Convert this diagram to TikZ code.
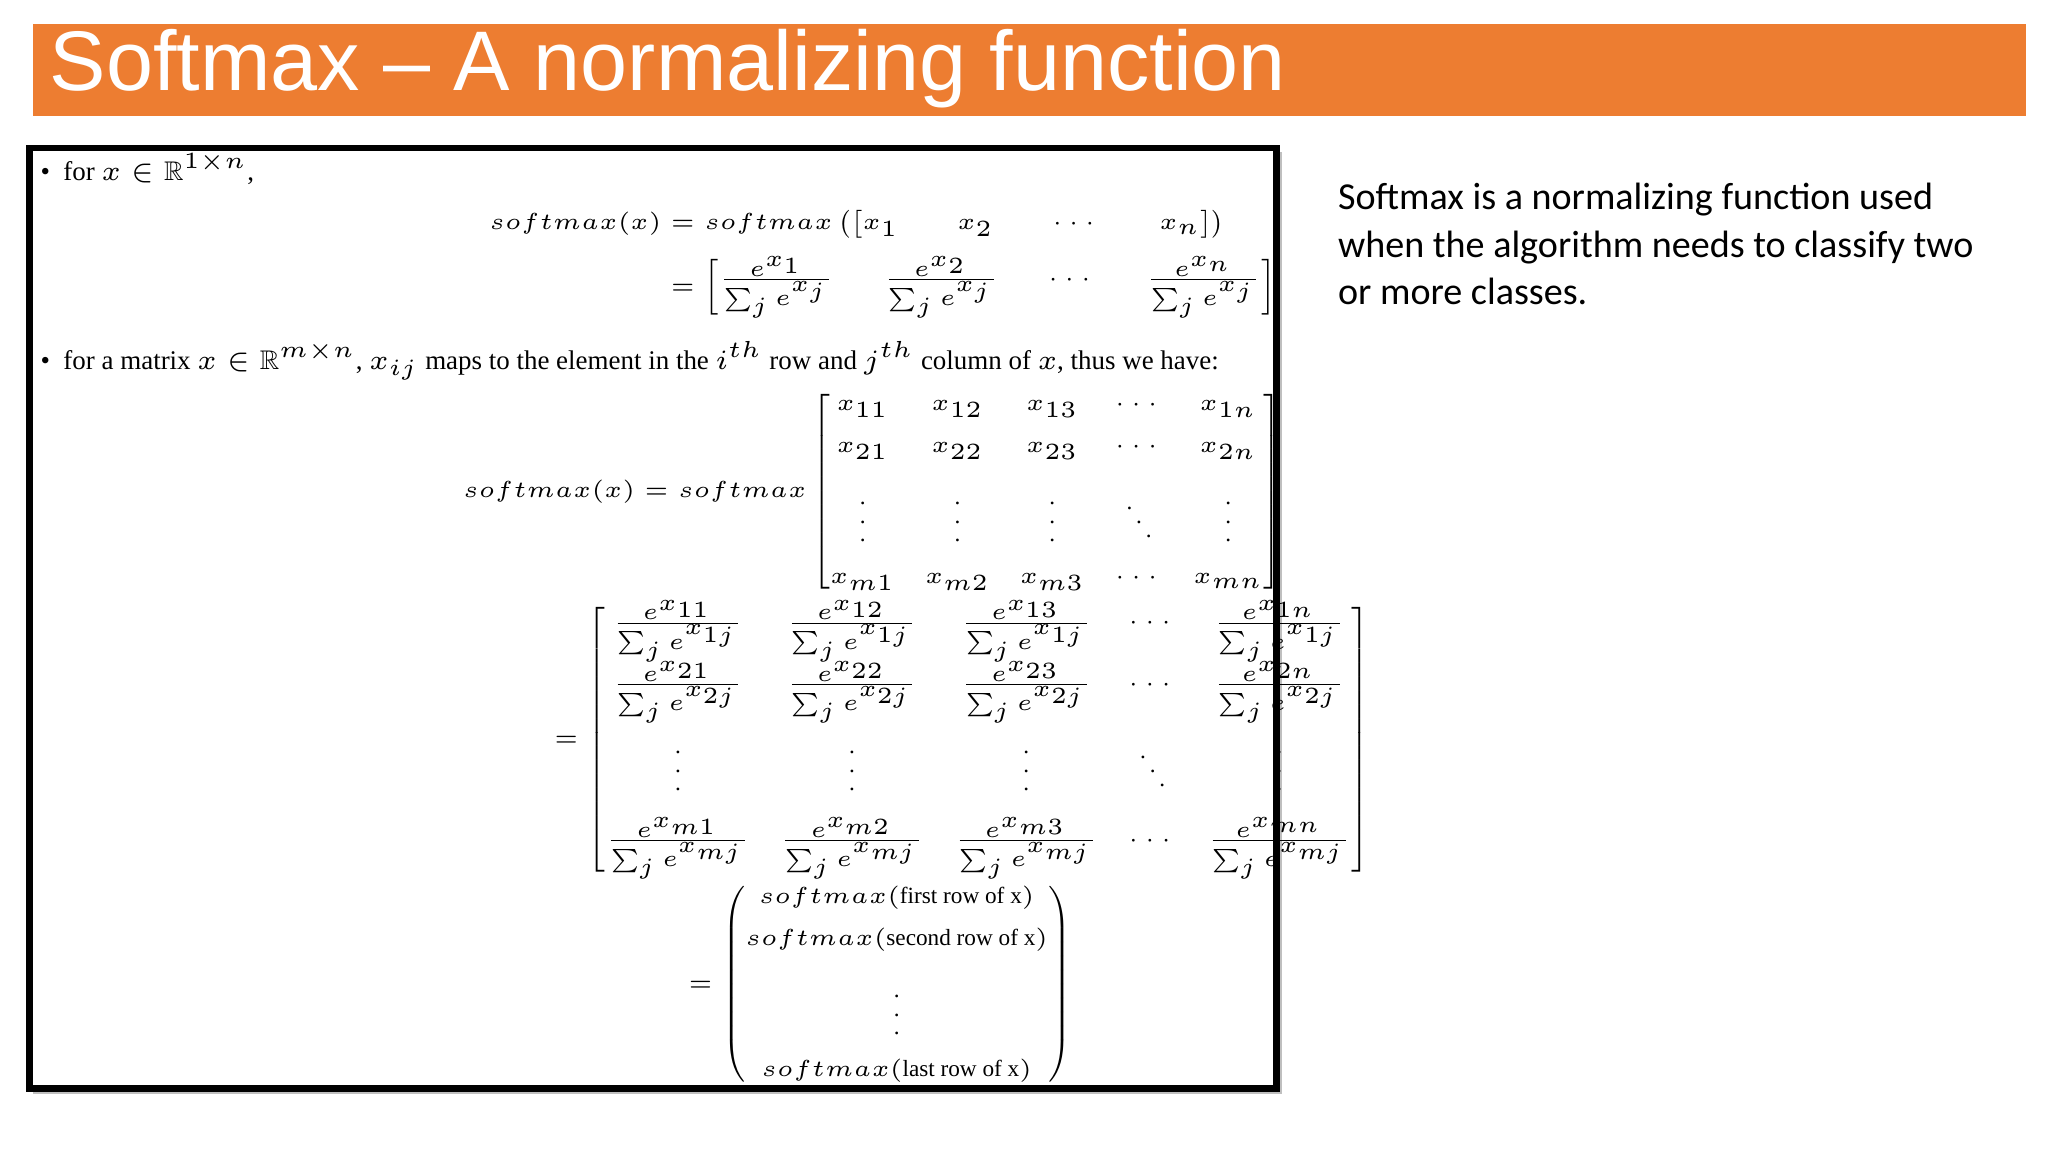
\documentclass[tikz,border=0pt]{standalone}
\usepackage{amsmath,amssymb}
\usepackage{fontspec}
\newfontfamily\titlefont{Liberation Sans}
\newfontfamily\bodyfont{Carlito}
\setmainfont{Liberation Serif}
\definecolor{orangebar}{HTML}{ED7D31}
\tikzset{mathtxt/.style={inner sep=0pt,font=\fontsize{5.8}{7}\selectfont},
  eqtxt/.style={inner sep=0pt,font=\fontsize{5}{6}\selectfont\setlength\arraycolsep{3.2pt}}}
\begin{document}
\begin{tikzpicture}[x=0.01cm,y=-0.01cm]
\useasboundingbox (0,0) rectangle (1550,872);
\fill[orangebar] (25,18) rectangle (1533,88);
\node[anchor=west,inner sep=0pt,text=white,font=\titlefont\fontsize{18.2}{20}\selectfont] (title) at (37,52) {Softmax – A normalizing function};
\fill[black!25] (25,115) rectangle (970,828);
\draw[line width=1.5pt,fill=white] (22,112) rectangle (966,824);
\node[anchor=north west,align=left,inner sep=0pt,font=\bodyfont\fontsize{8.2}{10.2}\selectfont] (side) at (1012,138) {Softmax is a normalizing function used\\when the algorithm needs to classify two\\or more classes.};
\node[mathtxt,anchor=west] (b1) at (30,128) {\textbullet\ \ for $x\in\mathbb{R}^{1\times n}$,};
\node[eqtxt] (e1) at (668,200) {$\begin{aligned}
softmax(x)&=softmax\left(\begin{bmatrix}x_1 & \;\;\; x_2 \;\;\; & \cdots & \;\;\; x_n\end{bmatrix}\right)\\
&=\begin{bmatrix}\frac{e^{x_1}}{\sum_j e^{x_j}} & \;\;\frac{e^{x_2}}{\sum_j e^{x_j}}\;\; & \cdots & \;\;\frac{e^{x_n}}{\sum_j e^{x_j}}\end{bmatrix}
\end{aligned}$};
\node[mathtxt,anchor=west] (b2) at (30,273) {\textbullet\ \ for a matrix $x\in\mathbb{R}^{m\times n}$, $x_{ij}$ maps to the element in the $i^{th}$ row and $j^{th}$ column of $x$, thus we have:};
\node[eqtxt] (e2) at (660,372) {$softmax(x)=softmax\begin{bmatrix}
x_{11} & x_{12} & x_{13} & \cdots & x_{1n}\\[3pt]
x_{21} & x_{22} & x_{23} & \cdots & x_{2n}\\[3pt]
\vdots & \vdots & \vdots & \ddots & \vdots\\[3pt]
x_{m1} & x_{m2} & x_{m3} & \cdots & x_{mn}
\end{bmatrix}$};
\node[eqtxt] (e3) at (728,560) {$=\begin{bmatrix}
\frac{e^{x_{11}}}{\sum_j e^{x_{1j}}} & \frac{e^{x_{12}}}{\sum_j e^{x_{1j}}} & \frac{e^{x_{13}}}{\sum_j e^{x_{1j}}} & \cdots & \frac{e^{x_{1n}}}{\sum_j e^{x_{1j}}}\\[4pt]
\frac{e^{x_{21}}}{\sum_j e^{x_{2j}}} & \frac{e^{x_{22}}}{\sum_j e^{x_{2j}}} & \frac{e^{x_{23}}}{\sum_j e^{x_{2j}}} & \cdots & \frac{e^{x_{2n}}}{\sum_j e^{x_{2j}}}\\[4pt]
\vdots & \vdots & \vdots & \ddots & \vdots\\[4pt]
\frac{e^{x_{m1}}}{\sum_j e^{x_{mj}}} & \frac{e^{x_{m2}}}{\sum_j e^{x_{mj}}} & \frac{e^{x_{m3}}}{\sum_j e^{x_{mj}}} & \cdots & \frac{e^{x_{mn}}}{\sum_j e^{x_{mj}}}
\end{bmatrix}$};
\node[eqtxt] (e4) at (666,745) {$=\begin{pmatrix}
softmax(\text{first row of x})\\[3pt]
softmax(\text{second row of x})\\[3pt]
\vdots\\[3pt]
softmax(\text{last row of x})
\end{pmatrix}$};
\end{tikzpicture}
\end{document}
